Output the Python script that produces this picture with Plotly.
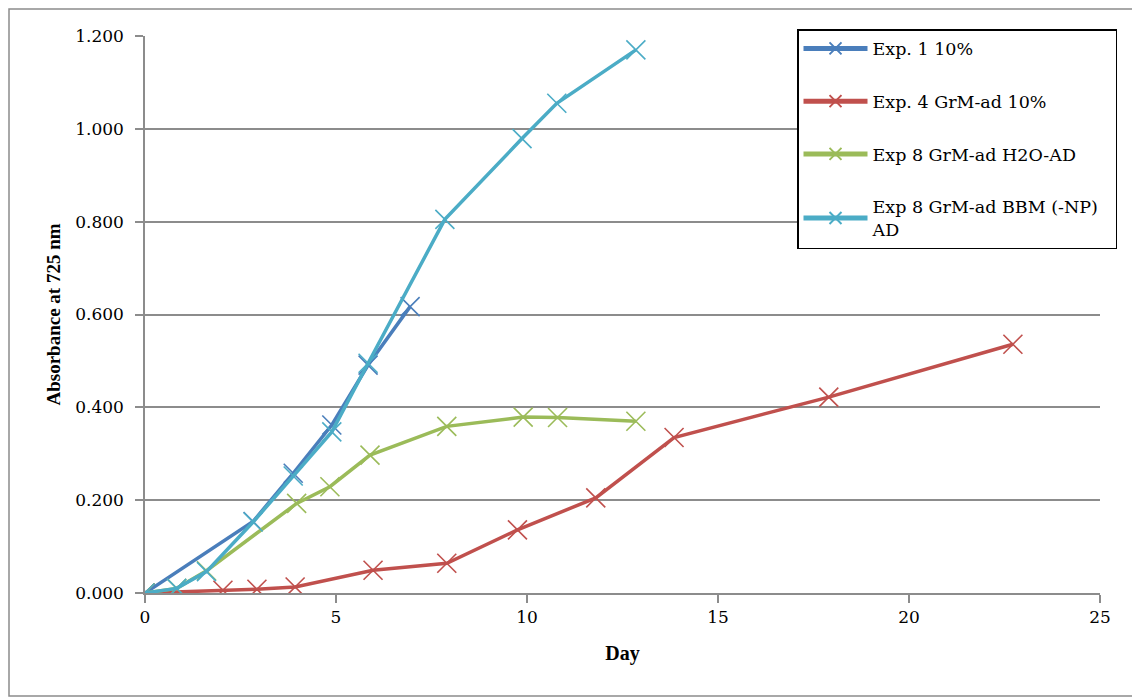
import plotly.graph_objects as go

# Data (days, absorbance at 725 nm)
exp1_day = [0, 2.83, 3.88, 4.89, 5.84, 6.94]
exp1_abs = [0.000, 0.154, 0.258, 0.362, 0.491, 0.617]

exp4_day = [0, 2.04, 2.93, 3.93, 5.97, 7.9, 9.75, 11.8, 13.85, 17.9, 22.72]
exp4_abs = [0.000, 0.006, 0.008, 0.013, 0.049, 0.064, 0.136, 0.205, 0.335, 0.422, 0.536]

exp8h_day = [0, 0.83, 1.61, 3.97, 4.84, 5.89, 7.9, 9.9, 10.8, 12.85]
exp8h_abs = [0.000, 0.010, 0.048, 0.193, 0.229, 0.297, 0.359, 0.379, 0.378, 0.370]

exp8b_day = [0, 0.83, 1.61, 2.83, 3.88, 4.89, 5.84, 7.85, 9.87, 10.78, 12.85]
exp8b_abs = [0.000, 0.010, 0.046, 0.153, 0.252, 0.347, 0.495, 0.805, 0.979, 1.055, 1.170]

names = ["Exp. 1 10%", "Exp. 4 GrM-ad 10%", "Exp 8 GrM-ad H2O-AD",
         "Exp 8 GrM-ad BBM (-NP)&nbsp;&nbsp;<br>AD"]
colors = ["#4A7EBB", "#C0504D", "#9BBB59", "#4BACC6"]

series = [(exp1_day, exp1_abs), (exp4_day, exp4_abs),
          (exp8h_day, exp8h_abs), (exp8b_day, exp8b_abs)]

FONT = "DejaVu Serif"

fig = go.Figure()
for i, ((xs, ys), nm, c) in enumerate(zip(series, names, colors)):
    fig.add_trace(go.Scatter(
        x=xs, y=ys, name=nm, mode="lines+markers",
        legendgroup=f"g{i}",
        line=dict(color=c, width=3.5),
        marker=dict(symbol="x-thin", size=19, line=dict(color=c, width=1.6), color=c),
    ))

# page offset (browser body margin) and plot area geometry in screen pixels
OFF = 8
W, H = 1140 - OFF, 698 - OFF
L, R, T, B = 145 - OFF, 1100 - OFF, 36 - OFF, 593 - OFF
pw, ph = R - L, B - T

def px(x):
    return (x - OFF - L) / pw

def py(y):
    return (B - (y - OFF)) / ph

fig.update_layout(
    width=W, height=H,
    margin=dict(l=L, r=W - R, t=T, b=H - B, autoexpand=False),
    paper_bgcolor="white", plot_bgcolor="white",
    font=dict(family=FONT, size=17, color="black"),
    showlegend=True,
    legend=dict(
        x=px(797), y=py(29), xanchor="left", yanchor="top",
        bordercolor="black", borderwidth=1.5, bgcolor="white",
        font=dict(family=FONT, size=17.5, color="black"),
        traceorder="grouped", tracegroupgap=27,
        itemwidth=64, itemsizing="constant",
    ),
    xaxis=dict(
        range=[0, 25], tickvals=[0, 5, 10, 15, 20, 25],
        showgrid=False, zeroline=False,
        showline=True, linecolor="#8c8c8c", linewidth=1.5,
        ticks="outside", ticklen=8, tickcolor="#8c8c8c", tickwidth=1.5,
        tickfont=dict(family=FONT, size=17),
        title=dict(text="<b>Day</b>", font=dict(family="Liberation Serif", size=20), standoff=20),
    ),
    yaxis=dict(
        range=[0, 1.2], tickvals=[0, 0.2, 0.4, 0.6, 0.8, 1.0, 1.2], tickformat=".3f",
        showgrid=True, gridcolor="#8c8c8c", gridwidth=1.5, zeroline=False,
        showline=True, linecolor="#8c8c8c", linewidth=1.5,
        ticks="outside", ticklen=8, tickcolor="#8c8c8c", tickwidth=1.5,
        ticklabelstandoff=8,
        tickfont=dict(family=FONT, size=17),
        title=dict(text="<b>Absorbance at 725 nm</b>", font=dict(family="Liberation Serif", size=19), standoff=10),
    ),
)

# outer chart border
fig.add_shape(type="rect", xref="paper", yref="paper",
              x0=px(OFF + 1), x1=px(1138), y0=py(696), y1=py(OFF + 1),
              line=dict(color="#8c8c8c", width=1.5), fillcolor="rgba(0,0,0,0)", layer="below")

fig.write_html("out.html")
